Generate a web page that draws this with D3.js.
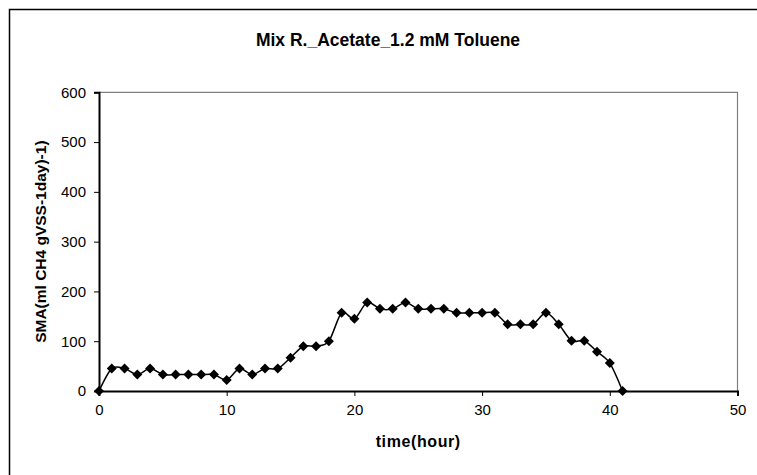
<!DOCTYPE html>
<html><head><meta charset="utf-8">
<script src="https://cdn.jsdelivr.net/npm/d3@7"></script>
<style>body{margin:0;background:#fff;}svg{display:block;font-family:"Liberation Sans",Arial,sans-serif;}</style>
</head><body>
<svg id="c" width="757" height="475"></svg>
<script>
const title = "Mix R._Acetate_1.2 mM Toluene";
const xTitle = "time(hour)";
const yTitle = "SMA(ml CH4 gVSS-1day)-1)";
const hours = [0,1,2,3,4,5,6,7,8,9,10,11,12,13,14,15,16,17,18,19,20,21,22,23,24,25,26,27,28,29,30,31,32,33,34,35,36,37,38,39,40,41];
const sma = [0,45,45,33,45,33,33,33,33,33,22,45,33,45,45,67,90,90,100,157,145,178,165,165,178,165,165,165,157,157,157,157,134,134,134,157,134,101,101,79,56,0];
const xTicks = [0,10,20,30,40,50];
const yTicks = [0,100,200,300,400,500,600];

const svg = d3.select("#c");
svg.append("rect").attr("x",9.5).attr("y",9.5).attr("width",800).attr("height",500)
  .attr("fill","#fff").attr("stroke","#000").attr("stroke-width",1.5);

const x = d3.scaleLinear().domain([0,50]).range([99,737.5]);
const y = d3.scaleLinear().domain([0,600]).range([391,92.3]);

svg.append("path").attr("d",`M${x(0)},${y(600)}H${x(50)}V${y(0)}`)
  .attr("fill","none").attr("stroke","#808080").attr("stroke-width",1.2);

const xa = svg.append("g").attr("transform",`translate(0,${y(0)})`)
  .call(d3.axisBottom(x).tickValues(xTicks).tickSize(5).tickPadding(8).tickFormat(d3.format("d")));
const ya = svg.append("g").attr("transform",`translate(${x(0)},0)`)
  .call(d3.axisLeft(y).tickValues(yTicks).tickSize(5).tickPadding(8).tickFormat(d3.format("d")));
[xa,ya].forEach(a=>{
  a.select(".domain").attr("stroke","#000").attr("stroke-width",2);
  a.selectAll(".tick line").attr("stroke","#000").attr("stroke-width",1);
  a.selectAll(".tick text").attr("fill","#000").style("font-size","15px").style("font-family","'Liberation Sans',Arial,sans-serif");
});

const data = hours.map((h,i)=>({h, v: sma[i]}));
const line = d3.line().x(d=>x(d.h)).y(d=>y(d.v)).curve(d3.curveCardinal.tension(0.1));
svg.append("path").datum(data).attr("d",line).attr("fill","none").attr("stroke","#000").attr("stroke-width",1.5);

const r = 5;
svg.append("g").selectAll("path").data(data).join("path")
  .attr("transform",d=>`translate(${x(d.h)},${y(d.v)})`)
  .attr("d",`M0,${-r}L${r},0L0,${r}L${-r},0Z`).attr("fill","#000");

svg.append("text").attr("x",388).attr("y",46).attr("text-anchor","middle")
  .style("font-weight","bold").style("font-size","17.5px").text(title);
svg.append("text").attr("x",(x(0)+x(50))/2).attr("y",447).attr("text-anchor","middle")
  .style("font-weight","bold").style("font-size","16px").style("letter-spacing","0.6px").text(xTitle);
svg.append("text").attr("transform",`translate(46,${(y(0)+y(600))/2}) rotate(-90)`).attr("text-anchor","middle")
  .style("font-weight","bold").style("font-size","15.5px").text(yTitle);
</script>
</body></html>
